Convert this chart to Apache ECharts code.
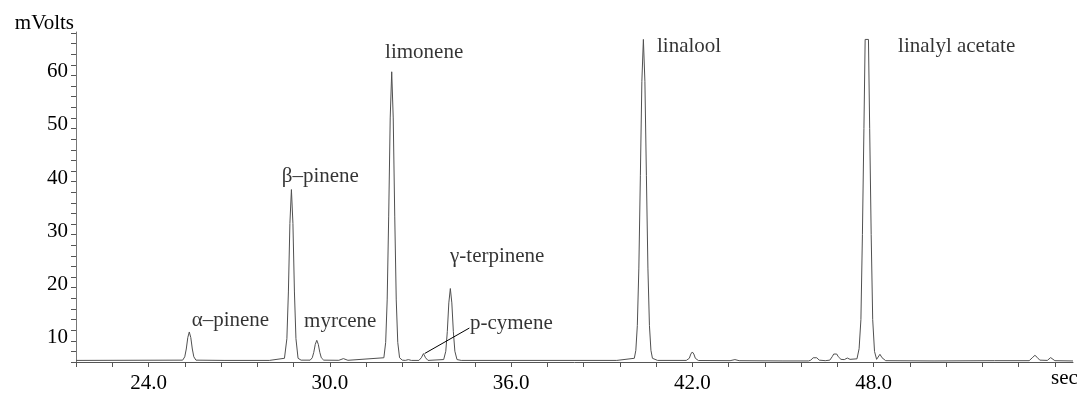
<!DOCTYPE html>
<html>
<head>
<meta charset="utf-8">
<script src="https://cdn.jsdelivr.net/npm/echarts@6/dist/echarts.min.js"></script>
<style>
  html, body { margin: 0; padding: 0; background: #fff; }
  #chart { width: 1077px; height: 395px; }
</style>
</head>
<body>
<div id="chart"></div>
<script>
// detector trace: [time (sec), signal (mVolts)]
var trace = [
    [21.6, 4.3], [25.13, 4.35], [25.2, 4.98], [25.25, 6.45], [25.3, 8.6], [25.35, 9.66],
    [25.4, 8.6], [25.45, 6.45], [25.5, 4.98], [25.57, 4.35], [26.5, 4.3], [28.0, 4.3],
    [28.5, 4.7], [28.58, 8.4], [28.63, 17.2], [28.68, 30.1], [28.73, 36.5], [28.78, 30.1],
    [28.83, 17.2], [28.88, 8.4], [28.95, 4.7], [29.05, 4.35],
    [29.35, 4.35], [29.42, 4.79], [29.47, 5.82], [29.52, 7.33], [29.57, 8.09], [29.62, 7.33],
    [29.67, 5.82], [29.72, 4.79], [29.8, 4.35],
    [30.3, 4.32], [30.45, 4.64], [30.6, 4.32],
    [31.79, 4.8], [31.85, 7.7], [31.9, 15.7], [31.95, 31.5], [32.0, 50.0], [32.05, 58.7],
    [32.1, 50.0], [32.15, 31.5], [32.2, 15.7], [32.25, 7.7], [32.31, 4.8], [32.4, 4.35],
    [32.5, 4.3], [32.6, 4.45], [32.7, 4.3],
    [32.95, 4.3], [33.03, 4.8], [33.1, 5.58], [33.17, 4.8], [33.25, 4.3],
    [33.77, 4.46], [33.84, 6.03], [33.89, 9.72], [33.94, 15.14], [33.99, 17.85], [34.04, 15.14],
    [34.09, 9.72], [34.14, 6.03], [34.21, 4.46], [34.35, 4.3], [36.0, 4.3], [39.5, 4.3],
    [40.08, 4.7], [40.13, 6.2], [40.18, 10.9], [40.23, 21.7], [40.28, 39.1], [40.33, 56.9],
    [40.38, 64.8], [40.43, 56.9], [40.48, 39.1], [40.53, 21.7], [40.58, 10.9], [40.63, 6.2],
    [40.68, 4.7], [40.85, 4.3],
    [41.8, 4.3], [41.9, 4.7], [41.95, 5.5], [42.0, 5.89], [42.05, 5.5], [42.1, 4.7], [42.2, 4.28],
    [43.25, 4.25], [43.41, 4.45], [43.55, 4.25], [45.0, 4.2], [45.85, 4.2],
    [45.92, 4.35], [46.0, 4.8], [46.06, 5.08], [46.12, 4.8], [46.2, 4.35], [46.4, 4.25],
    [46.55, 4.35], [46.63, 5.0], [46.68, 5.5], [46.73, 5.7], [46.78, 5.5], [46.83, 5.0], [46.92, 4.5],
    [47.03, 4.45], [47.13, 4.75], [47.22, 4.5],
    [47.45, 4.6], [47.52, 6.5], [47.58, 12], [47.63, 28], [47.68, 48], [47.72, 64.8],
    [47.83, 64.8], [47.87, 48], [47.92, 28], [47.97, 12], [48.03, 6.0], [48.1, 4.5],
    [48.14, 4.8], [48.21, 5.45], [48.28, 4.8], [48.4, 4.25],
    [50.0, 4.2], [52.0, 4.25], [53.15, 4.25],
    [53.2, 4.4], [53.27, 4.9], [53.34, 5.26], [53.41, 4.9], [53.5, 4.35],
    [53.75, 4.3], [53.8, 4.6], [53.86, 4.83], [53.92, 4.6], [54.0, 4.25], [54.6, 4.2]
];

// peak names and where their text starts
var compounds = ['α–pinene', 'β–pinene', 'myrcene', 'limonene', 'γ-terpinene', 'p-cymene', 'linalool', 'linalyl acetate'];
var labelTime = [25.43, 28.41, 29.15, 31.83, 33.98, 34.64, 40.83, 48.81];
var labelVolt = [11.9, 38.9, 11.55, 62.4, 23.8, 11.3, 63.4, 63.4];

// leader line from the p-cymene peak to its text
var cymeneLine = [[33.14, 5.6], [34.62, 10.4]];

var xMajorTicks = [24, 30, 36, 42, 48];
var yMajorTicks = [10, 20, 30, 40, 50, 60];

var font = "'Liberation Serif', 'Times New Roman', serif";

var labelData = [];
for (var i = 0; i < compounds.length; i++) {
    labelData.push({ name: compounds[i], value: [labelTime[i], labelVolt[i]] });
}

function isMajor(v, list) {
    for (var i = 0; i < list.length; i++) {
        if (Math.abs(v - list[i]) < 1e-6) return true;
    }
    return false;
}

var myChart = echarts.init(document.getElementById('chart'));

var option = {
    animation: false,
    textStyle: { fontFamily: font },
    grid: { left: 76, right: 4, top: 32, bottom: 33, containLabel: false, outerBoundsMode: 'none' },
    xAxis: {
        type: 'value',
        min: 21.6,
        max: 54.6,
        interval: 1.2,
        name: 'sec',
        nameLocation: 'end',
        nameGap: -22,
        nameTextStyle: { color: '#000', fontSize: 21, fontFamily: font, verticalAlign: 'top', padding: [6, 0, 0, 0] },
        splitLine: { show: false },
        axisLine: { lineStyle: { color: '#555', width: 1 } },
        axisTick: { length: 5, lineStyle: { color: '#555' } },
        axisLabel: {
            color: '#000',
            fontSize: 21,
            fontFamily: font,
            margin: 11,
            showMinLabel: true,
            showMaxLabel: false,
            formatter: function (v) {
                return isMajor(v, xMajorTicks) ? v.toFixed(1) : '';
            }
        }
    },
    yAxis: {
        type: 'value',
        min: 4,
        max: 66.2,
        interval: 2,
        name: 'mVolts',
        nameLocation: 'end',
        nameGap: -2,
        nameTextStyle: { color: '#000', fontSize: 21, fontFamily: font, align: 'right', padding: [0, 2, 0, 0] },
        splitLine: { show: false },
        axisLine: { show: true, lineStyle: { color: '#777', width: 1 } },
        axisTick: { show: true, length: 5, lineStyle: { color: '#555' } },
        axisLabel: {
            color: '#000',
            fontSize: 21,
            fontFamily: font,
            margin: 8,
            verticalAlign: 'top',
            lineHeight: 14,
            showMaxLabel: false,
            formatter: function (v) {
                return isMajor(v, yMajorTicks) ? String(v) : '';
            }
        }
    },
    series: [
        {
            name: 'signal',
            type: 'line',
            data: trace,
            showSymbol: false,
            symbol: 'none',
            smooth: false,
            clip: true,
            lineStyle: { color: '#505050', width: 1 },
            markLine: {
                silent: true,
                symbol: 'none',
                label: { show: false },
                lineStyle: { color: '#000', width: 1, type: 'solid' },
                data: [[{ coord: cymeneLine[0] }, { coord: cymeneLine[1] }]]
            }
        },
        {
            name: 'compounds',
            type: 'scatter',
            data: labelData,
            symbolSize: 0,
            silent: true,
            label: {
                show: true,
                position: 'right',
                distance: 0,
                formatter: '{b}',
                color: '#000',
                fontSize: 21,
                fontFamily: font
            }
        }
    ]
};

myChart.setOption(option);
window.addEventListener('resize', function () {
    myChart.resize();
});
</script>
</body>
</html>
